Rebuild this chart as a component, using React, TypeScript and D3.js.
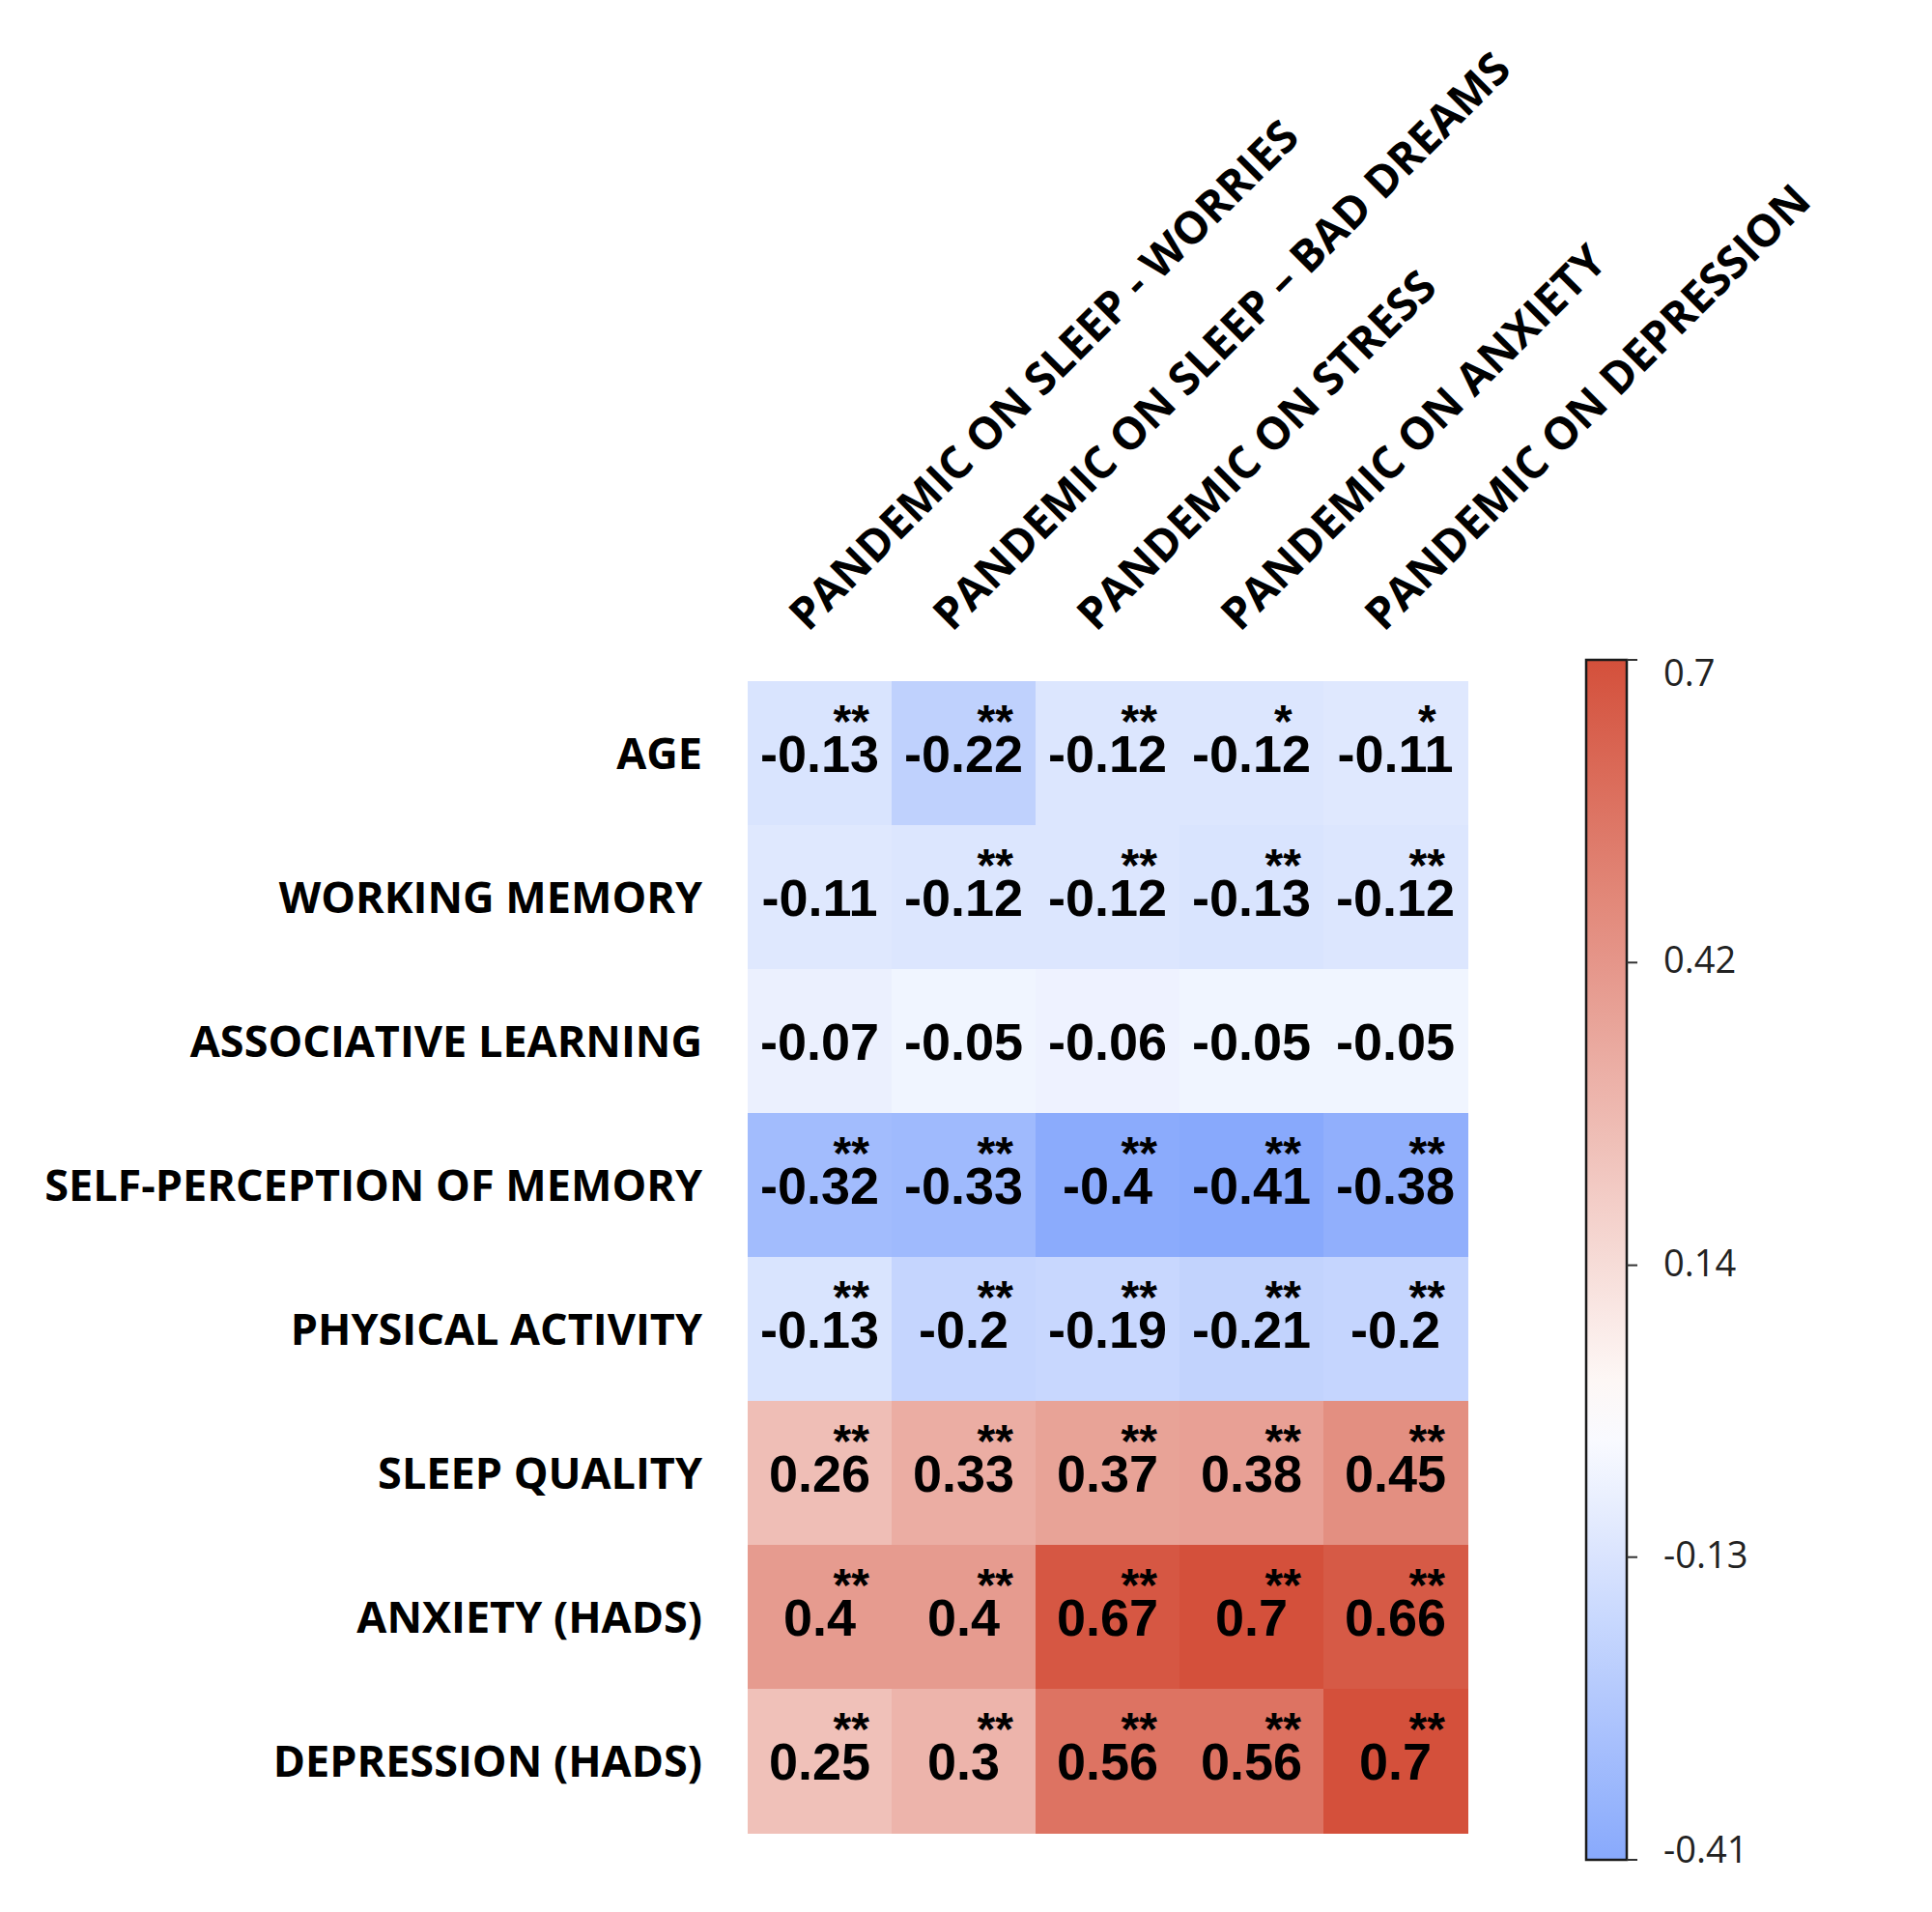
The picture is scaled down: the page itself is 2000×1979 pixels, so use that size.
import React from "react";
import * as d3 from "d3";

// ---------- data ----------
const rowLabels = [
  "AGE",
  "WORKING MEMORY",
  "ASSOCIATIVE LEARNING",
  "SELF-PERCEPTION OF MEMORY",
  "PHYSICAL ACTIVITY",
  "SLEEP QUALITY",
  "ANXIETY (HADS)",
  "DEPRESSION (HADS)",
];

const colLabels = [
  "PANDEMIC ON SLEEP - WORRIES",
  "PANDEMIC ON SLEEP \u2013 BAD DREAMS",
  "PANDEMIC ON STRESS",
  "PANDEMIC ON ANXIETY",
  "PANDEMIC ON DEPRESSION",
];

const ageValues = [-0.13, -0.22, -0.12, -0.12, -0.11];
const workingMemoryValues = [-0.11, -0.12, -0.12, -0.13, -0.12];
const associativeLearningValues = [-0.07, -0.05, -0.06, -0.05, -0.05];
const selfPerceptionValues = [-0.32, -0.33, -0.4, -0.41, -0.38];
const physicalActivityValues = [-0.13, -0.2, -0.19, -0.21, -0.2];
const sleepQualityValues = [0.26, 0.33, 0.37, 0.38, 0.45];
const anxietyValues = [0.4, 0.4, 0.67, 0.7, 0.66];
const depressionValues = [0.25, 0.3, 0.56, 0.56, 0.7];

const ageSig = ["**", "**", "**", "*", "*"];
const workingMemorySig = ["", "**", "**", "**", "**"];
const associativeLearningSig = ["", "", "", "", ""];
const selfPerceptionSig = ["**", "**", "**", "**", "**"];
const physicalActivitySig = ["**", "**", "**", "**", "**"];
const sleepQualitySig = ["**", "**", "**", "**", "**"];
const anxietySig = ["**", "**", "**", "**", "**"];
const depressionSig = ["**", "**", "**", "**", "**"];

const colorbarTicks = [0.7, 0.42, 0.14, -0.13, -0.41];
const colorDomain = [-0.41, 0, 0.7];
const colorRange = ["#88a9fc", "#ffffff", "#d4503b"];

const values = [
  ageValues,
  workingMemoryValues,
  associativeLearningValues,
  selfPerceptionValues,
  physicalActivityValues,
  sleepQualityValues,
  anxietyValues,
  depressionValues,
];
const sigs = [
  ageSig,
  workingMemorySig,
  associativeLearningSig,
  selfPerceptionSig,
  physicalActivitySig,
  sleepQualitySig,
  anxietySig,
  depressionSig,
];

// ---------- layout ----------
const W = 2000;
const H = 1979;
const heat = { left: 774, top: 705, right: 1519, bottom: 1897 };
const cbar = { left: 1642, right: 1684, top: 683, bottom: 1925 };
const labelFont = "'Open Sans', 'DejaVu Sans', sans-serif";
const numFont = "'Liberation Sans', Arial, sans-serif";

export default function App() {
  const x = d3.scaleBand<string>().domain(colLabels).range([heat.left, heat.right]);
  const y = d3.scaleBand<string>().domain(rowLabels).range([heat.top, heat.bottom]);
  const color = d3
    .scaleLinear<string>()
    .domain(colorDomain)
    .range(colorRange)
    .interpolate(d3.interpolateRgb)
    .clamp(true);
  const cy = d3.scaleLinear().domain([-0.41, 0.7]).range([cbar.bottom, cbar.top]);

  const gradStops = d3.range(0, 21).map((i) => {
    const v = -0.41 + (i / 20) * (0.7 + 0.41);
    return { offset: i / 20, color: color(v) };
  });

  const bw = x.bandwidth();
  const bh = y.bandwidth();

  return (
    <svg
      width={W}
      height={H}
      viewBox={`0 0 ${W} ${H}`}
      style={{ position: "absolute", left: 0, top: 0, background: "#fff" }}
    >
      <defs>
        <linearGradient id="cbgrad" x1="0" y1="1" x2="0" y2="0">
          {gradStops.map((s, i) => (
            <stop key={i} offset={s.offset} stopColor={s.color} />
          ))}
        </linearGradient>
      </defs>
      <rect x={0} y={0} width={W} height={H} fill="#fff" />

      {/* cells */}
      {rowLabels.map((r, ri) =>
        colLabels.map((c, ci) => (
          <rect
            key={`${ri}-${ci}`}
            x={x(c)!}
            y={y(r)!}
            width={bw + 0.5}
            height={bh + 0.5}
            fill={color(values[ri][ci])}
            shapeRendering="crispEdges"
          />
        ))
      )}

      {/* cell values */}
      {rowLabels.map((r, ri) =>
        colLabels.map((c, ci) => {
          const cx = x(c)! + bw / 2;
          const cyy = y(r)! + bh / 2;
          return (
            <g key={`t-${ri}-${ci}`}>
              <text
                x={cx}
                y={cyy + 19}
                textAnchor="middle"
                fontFamily={numFont}
                fontWeight="bold"
                fontSize={54}
                fill="#000"
              >
                {String(values[ri][ci])}
              </text>
              {sigs[ri][ci] && (
                <text
                  x={x(c)! + bw * 0.72}
                  y={cyy - 17}
                  textAnchor="middle"
                  fontFamily={numFont}
                  fontWeight="bold"
                  fontSize={48}
                  fill="#000"
                >
                  {sigs[ri][ci]}
                </text>
              )}
            </g>
          );
        })
      )}

      {/* row labels */}
      {rowLabels.map((r) => (
        <text
          key={r}
          x={heat.left - 47}
          y={y(r)! + bh / 2 + 16}
          textAnchor="end"
          fontFamily={labelFont}
          fontWeight="bold"
          fontSize={45}
          fill="#000"
        >
          {r}
        </text>
      ))}

      {/* column labels */}
      {colLabels.map((c) => {
        const ax = x(c)! + bw / 2 - 12;
        const ay = heat.top - 50;
        return (
          <text
            key={c}
            transform={`translate(${ax},${ay}) rotate(-45)`}
            textAnchor="start"
            fontFamily={labelFont}
            fontWeight="bold"
            fontSize={46}
            fill="#000"
          >
            {c}
          </text>
        );
      })}

      {/* colorbar */}
      <rect
        x={cbar.left}
        y={cbar.top}
        width={cbar.right - cbar.left}
        height={cbar.bottom - cbar.top}
        fill="url(#cbgrad)"
        stroke="#1a1a1a"
        strokeWidth={2.5}
      />
      {colorbarTicks.map((t) => {
        const ty = cy(t);
        const ly = Math.min(Math.max(ty - 4, cbar.top + 12), cbar.bottom - 12);
        return (
          <g key={t}>
            <line x1={cbar.right} x2={cbar.right + 11} y1={ty} y2={ty} stroke="#333" strokeWidth={2} />
            <text
              x={cbar.right + 38}
              y={ly}
              dominantBaseline="central"
              fontFamily={labelFont}
              fontSize={38}
              fill="#222"
            >
              {String(t)}
            </text>
          </g>
        );
      })}
    </svg>
  );
}
